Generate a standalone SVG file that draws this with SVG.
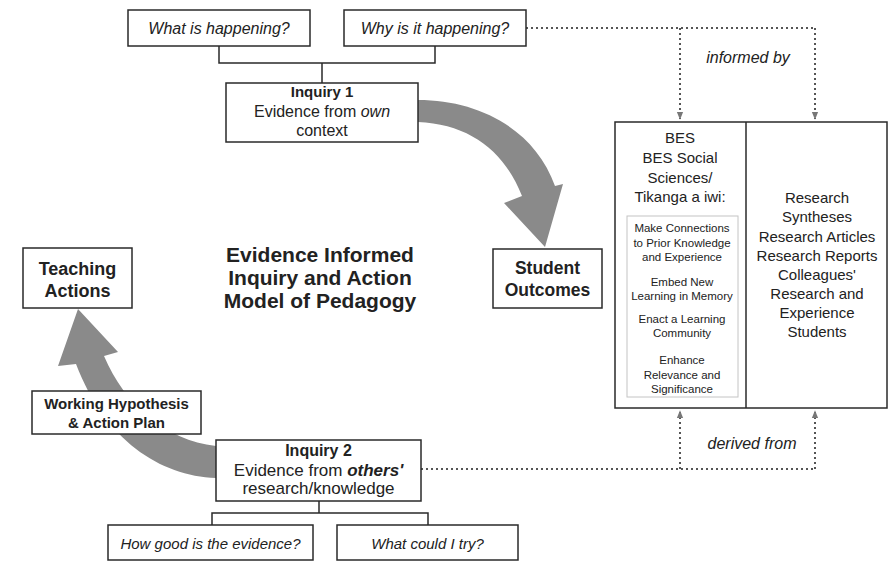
<svg xmlns="http://www.w3.org/2000/svg" width="892" height="562" viewBox="0 0 892 562">
<defs>
<style>
.box{fill:#fff;stroke:#2a2a2a;stroke-width:1.5}
.inner{fill:none;stroke:#c4c4c4;stroke-width:1}
.ln{fill:none;stroke:#2a2a2a;stroke-width:1.5}
.dot{fill:none;stroke:#555;stroke-width:2;stroke-dasharray:2 3}
.big{fill:#8a8a8a}
text{font-family:"Liberation Sans",Arial,sans-serif;fill:#222;text-anchor:middle}
.q{font-style:italic;font-size:16px}
.qb{font-style:italic;font-size:15px}
.b{font-weight:bold}
.t{font-weight:bold;font-size:21px}
.r{font-size:15px}
.s{font-size:11.5px}
</style>
<marker id="ah" viewBox="0 0 10 10" refX="9" refY="5" markerWidth="4" markerHeight="4" orient="auto">
<path d="M0,1 L10,5 L0,9 Z" fill="#777"/>
</marker>
</defs>

<g id="connectors">
<path class="ln" d="M219,46 V63 H435 V46 M322,63 V83"/>
<path class="ln" d="M319,501 V513 M212,525 V513 H428 V525"/>
<path class="dot" d="M526,28 H815"/>
<path class="dot" d="M680,28 V119" marker-end="url(#ah)"/>
<path class="dot" d="M815,28 V119" marker-end="url(#ah)"/>
<path class="dot" d="M421,469 H815"/>
<path class="dot" d="M680,469 V411" marker-end="url(#ah)"/>
<path class="dot" d="M815,469 V411" marker-end="url(#ah)"/>
<path class="big" d="M418,100 C480,100 535,130 555,186 L563,184 L545,247 L504,203 L522,196 C505,152 470,124 418,122 Z"/>
<path class="big" d="M216,478 C160,476 105,440 76,364 L58,366 L78,309 L118,352 L104,356 C125,405 165,440 216,446 Z"/>
</g>

<g id="what-happening">
<rect class="box" x="128" y="10" width="182" height="36"/>
<text class="q" x="219" y="34">What is happening?</text>
</g>
<g id="why-happening">
<rect class="box" x="344" y="10" width="182" height="36"/>
<text class="q" x="435" y="34">Why is it happening?</text>
</g>
<g id="inquiry1">
<rect class="box" x="226" y="83" width="192" height="59"/>
<text x="322" y="97" font-size="15" class="b">Inquiry 1</text>
<text x="322" y="117" font-size="16">Evidence from <tspan font-style="italic">own</tspan></text>
<text x="322" y="136" font-size="16">context</text>
</g>
<g id="informed-by">
<text class="q" x="748" y="63">informed by</text>
</g>
<g id="title">
<text class="t" x="320" y="262">Evidence Informed</text>
<text class="t" x="320" y="285">Inquiry and Action</text>
<text class="t" x="320" y="308">Model of Pedagogy</text>
</g>
<g id="student-outcomes">
<rect class="box" x="493" y="249" width="109" height="59"/>
<text x="547.5" y="274" font-size="17.5" class="b">Student</text>
<text x="547.5" y="296" font-size="17.5" class="b">Outcomes</text>
</g>
<g id="teaching-actions">
<rect class="box" x="23" y="248" width="109" height="60"/>
<text x="77.5" y="275" font-size="18" class="b">Teaching</text>
<text x="77.5" y="297" font-size="18" class="b">Actions</text>
</g>
<g id="working-hypothesis">
<rect class="box" x="32" y="391" width="169" height="43"/>
<text x="116.5" y="409" font-size="15" class="b">Working Hypothesis</text>
<text x="116.5" y="428" font-size="15" class="b">&amp; Action Plan</text>
</g>
<g id="inquiry2">
<rect class="box" x="216" y="440" width="205" height="61"/>
<text x="318.5" y="456" font-size="16" class="b">Inquiry 2</text>
<text x="318.5" y="476" font-size="17">Evidence from <tspan font-style="italic" font-weight="bold">others'</tspan></text>
<text x="318.5" y="494" font-size="17">research/knowledge</text>
</g>
<g id="how-good">
<rect class="box" x="108" y="525" width="205" height="35"/>
<text class="qb" x="210.5" y="549">How good is the evidence?</text>
</g>
<g id="what-try">
<rect class="box" x="337" y="525" width="181" height="35"/>
<text class="qb" x="427.5" y="549">What could I try?</text>
</g>
<g id="derived-from">
<text class="q" x="752" y="449">derived from</text>
</g>
<g id="sources">
<rect class="box" x="615" y="122" width="272" height="286"/>
<line class="ln" x1="746" y1="122" x2="746" y2="408"/>
<rect class="inner" x="627" y="216" width="111" height="181"/>
<text x="680" y="143" font-size="15">BES</text>
<text x="680" y="163" font-size="15">BES Social</text>
<text x="680" y="183" font-size="15">Sciences/</text>
<text x="680" y="202" font-size="15">Tikanga a iwi:</text>
<text class="s" x="682" y="232">Make Connections</text>
<text class="s" x="682" y="247">to Prior Knowledge</text>
<text class="s" x="682" y="261">and Experience</text>
<text class="s" x="682" y="286">Embed New</text>
<text class="s" x="682" y="300">Learning in Memory</text>
<text class="s" x="682" y="323">Enact a Learning</text>
<text class="s" x="682" y="337">Community</text>
<text class="s" x="682" y="364">Enhance</text>
<text class="s" x="682" y="379">Relevance and</text>
<text class="s" x="682" y="393">Significance</text>
<text class="r" x="817" y="203">Research</text>
<text class="r" x="817" y="222">Syntheses</text>
<text class="r" x="817" y="242">Research Articles</text>
<text class="r" x="817" y="261">Research Reports</text>
<text class="r" x="817" y="280">Colleagues'</text>
<text class="r" x="817" y="299">Research and</text>
<text class="r" x="817" y="318">Experience</text>
<text class="r" x="817" y="337">Students</text>
</g>
</svg>
